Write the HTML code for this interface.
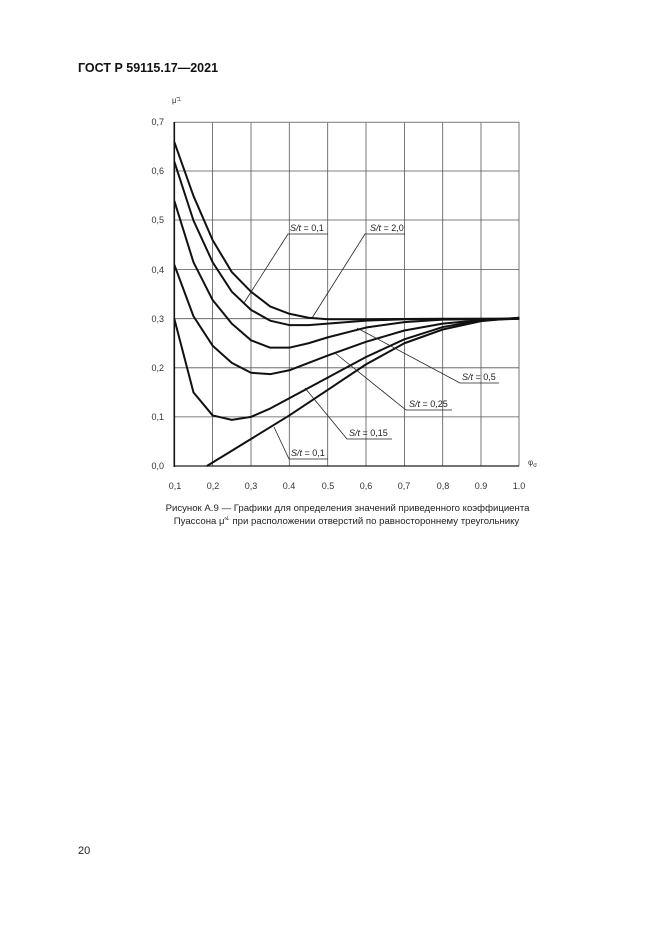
<!DOCTYPE html>
<html><head><meta charset="utf-8"><style>
html,body{margin:0;padding:0;background:#fff;}
body{width:661px;height:935px;position:relative;overflow:hidden;font-family:"Liberation Sans",sans-serif;}
.t{position:absolute;white-space:nowrap;color:#222;}
</style></head><body>
<div class="t" style="left:78px;top:61px;font-size:12.5px;font-weight:bold;color:#111;">ГОСТ Р 59115.17—2021</div>
<div class="t" style="left:78px;top:845px;font-size:11px;">20</div>
<div class="t" style="left:0;width:695px;text-align:center;top:503px;font-size:9.6px;">Рисунок А.9 — Графики для определения значений приведенного коэффициента</div>
<div class="t" style="left:0;width:693px;text-align:center;top:515px;font-size:9.6px;">Пуассона μ̃<sup style="font-size:6px">⊥</sup> при расположении отверстий по равностороннему треугольнику</div>
<svg width="661" height="935" style="position:absolute;left:0;top:0" font-family="Liberation Sans, sans-serif">
<g stroke="#555" stroke-width="0.8">
<line x1="212.6" y1="122" x2="212.6" y2="466"/><line x1="251" y1="122" x2="251" y2="466"/>
<line x1="289.3" y1="122" x2="289.3" y2="466"/><line x1="327.7" y1="122" x2="327.7" y2="466"/>
<line x1="366" y1="122" x2="366" y2="466"/><line x1="404.4" y1="122" x2="404.4" y2="466"/>
<line x1="442.7" y1="122" x2="442.7" y2="466"/><line x1="481" y1="122" x2="481" y2="466"/>
<line x1="519" y1="122" x2="519" y2="466"/>
<line x1="174" y1="171" x2="519" y2="171"/><line x1="174" y1="220" x2="519" y2="220"/>
<line x1="174" y1="269.6" x2="519" y2="269.6"/><line x1="174" y1="318.7" x2="519" y2="318.7"/>
<line x1="174" y1="367.8" x2="519" y2="367.8"/><line x1="174" y1="416.9" x2="519" y2="416.9"/>
</g>
<line x1="174" y1="122.3" x2="519" y2="122.3" stroke="#888" stroke-width="1.2"/>
<line x1="174" y1="466" x2="519" y2="466" stroke="#222" stroke-width="1.3"/>
<line x1="174.3" y1="122" x2="174.3" y2="467" stroke="#111" stroke-width="1.6"/>
<g font-size="9" fill="#333" text-anchor="end">
<text x="164" y="125">0,7</text><text x="164" y="174">0,6</text><text x="164" y="223">0,5</text>
<text x="164" y="273">0,4</text><text x="164" y="322">0,3</text><text x="164" y="371">0,2</text>
<text x="164" y="420">0,1</text><text x="164" y="469">0,0</text>
</g>
<g font-size="9" fill="#333" text-anchor="middle">
<text x="175" y="489">0,1</text><text x="213" y="489">0,2</text><text x="251" y="489">0,3</text>
<text x="289" y="489">0.4</text><text x="328" y="489">0.5</text><text x="366" y="489">0,6</text>
<text x="404" y="489">0,7</text><text x="443" y="489">0,8</text><text x="481" y="489">0.9</text>
<text x="519" y="489">1.0</text>
</g>
<text x="528" y="465" font-size="8" fill="#333">φ<tspan font-size="6" dy="2">σ</tspan></text>
<text x="172" y="103" font-size="8" fill="#333">μ̃<tspan font-size="6" dy="-2">⊥</tspan></text>
<g transform="translate(135.96,466) scale(383.4,-491)" fill="none" stroke="#111" stroke-width="2" stroke-linejoin="round">
<polyline vector-effect="non-scaling-stroke" points="0.1,0.66 0.15,0.55 0.2,0.46 0.25,0.395 0.3,0.355 0.35,0.325 0.4,0.31 0.45,0.302 0.5,0.299 0.6,0.299 0.8,0.3 1,0.3"/>
<polyline vector-effect="non-scaling-stroke" points="0.1,0.62 0.15,0.5 0.2,0.415 0.25,0.355 0.3,0.318 0.35,0.296 0.4,0.287 0.45,0.287 0.5,0.29 0.6,0.296 0.7,0.299 1,0.3"/>
<polyline vector-effect="non-scaling-stroke" points="0.1,0.54 0.15,0.415 0.2,0.338 0.25,0.29 0.3,0.256 0.35,0.241 0.4,0.241 0.45,0.25 0.5,0.262 0.6,0.282 0.7,0.293 0.8,0.298 1,0.3"/>
<polyline vector-effect="non-scaling-stroke" points="0.1,0.41 0.15,0.305 0.2,0.245 0.25,0.21 0.3,0.19 0.35,0.187 0.4,0.195 0.45,0.21 0.5,0.225 0.6,0.253 0.7,0.276 0.8,0.29 0.9,0.297 1,0.3"/>
<polyline vector-effect="non-scaling-stroke" points="0.1,0.3 0.15,0.15 0.2,0.103 0.25,0.094 0.3,0.1 0.35,0.117 0.4,0.138 0.5,0.18 0.6,0.222 0.7,0.258 0.8,0.283 0.9,0.297 1,0.302"/>
<polyline vector-effect="non-scaling-stroke" points="0.185,0 0.3,0.055 0.4,0.103 0.5,0.155 0.6,0.207 0.7,0.25 0.8,0.278 0.9,0.295 1,0.302"/>
</g>
<g stroke="#222" stroke-width="0.8" fill="none">
<polyline points="244,303 288,234 328,234"/>
<polyline points="312,318 365,234 405,234"/>
<polyline points="357,328 460,383 499,383"/>
<polyline points="335,353 406,410 452,410"/>
<polyline points="305,388 347,439 392,439"/>
<polyline points="274,427 289,459 328,459"/>
</g>
<g font-size="9" fill="#222">
<text x="290" y="231"><tspan font-style="italic">S/t</tspan> = 0,1</text>
<text x="370" y="231"><tspan font-style="italic">S/t</tspan> = 2,0</text>
<text x="462" y="380"><tspan font-style="italic">S/t</tspan> = 0,5</text>
<text x="409" y="407"><tspan font-style="italic">S/t</tspan> = 0,25</text>
<text x="349" y="436"><tspan font-style="italic">S/t</tspan> = 0,15</text>
<text x="291" y="456"><tspan font-style="italic">S/t</tspan> = 0,1</text>
</g>
</svg>
</body></html>
